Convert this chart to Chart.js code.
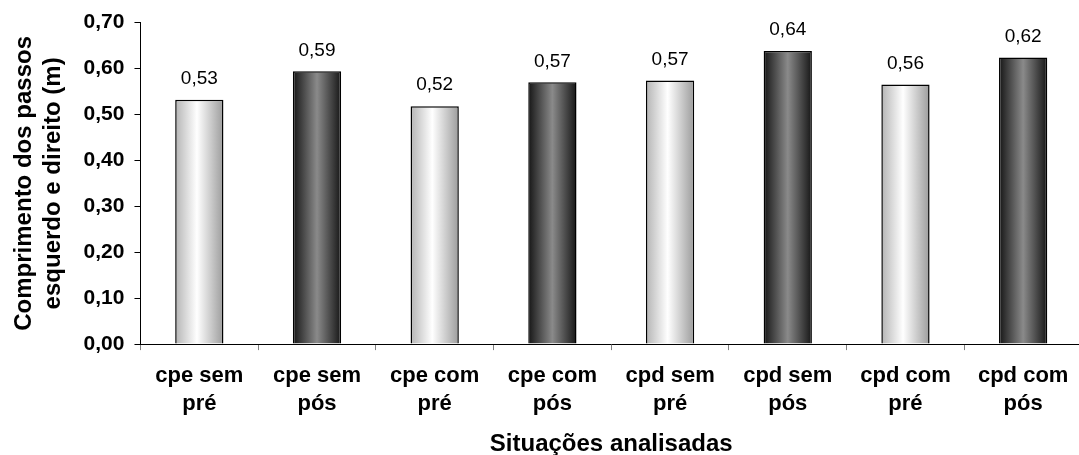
<!DOCTYPE html>
<html>
<head>
<meta charset="utf-8">
<script src="https://cdn.jsdelivr.net/npm/chart.js@4/dist/chart.umd.min.js"></script>
<style>
  html, body { margin: 0; padding: 0; background: #fff; overflow: hidden; }
  #wrap { width: 1083px; height: 456px; }
</style>
</head>
<body>
<div id="wrap"><canvas id="chart"></canvas></div>
<script>
// Step length per situation
const categories = [
  ['cpe sem', 'pré'], ['cpe sem', 'pós'], ['cpe com', 'pré'], ['cpe com', 'pós'],
  ['cpd sem', 'pré'], ['cpd sem', 'pós'], ['cpd com', 'pré'], ['cpd com', 'pós']
];
const stepLength = [0.532, 0.594, 0.518, 0.570, 0.574, 0.638, 0.565, 0.624];
const valueLabels = ['0,53', '0,59', '0,52', '0,57', '0,57', '0,64', '0,56', '0,62'];
const yTicks = [0, 0.1, 0.2, 0.3, 0.4, 0.5, 0.6, 0.7];

const FONT = '"Liberation Sans", Arial, sans-serif';
const BAR_PCT = 0.41;

// horizontal gradient per bar: light for "pré", dark for "pós"
function barFill(context) {
  const chart = context.chart;
  const i = context.dataIndex;
  const dark = i % 2 === 1;
  if (!chart.chartArea) return dark ? '#777' : '#eee';
  const xs = chart.scales.x;
  const cx = xs.getPixelForValue(i);
  const w = (xs.width / categories.length) * BAR_PCT;
  const g = chart.ctx.createLinearGradient(cx - w / 2, 0, cx + w / 2, 0);
  if (dark) {
    g.addColorStop(0, '#161616');
    g.addColorStop(0.5, '#8a8a8a');
    g.addColorStop(1, '#161616');
  } else {
    g.addColorStop(0, '#b4b4b4');
    g.addColorStop(0.45, '#ffffff');
    g.addColorStop(1, '#9c9c9c');
  }
  return g;
}

// value labels above bars
const valueLabelPlugin = {
  id: 'valueLabels',
  afterDatasetsDraw(chart) {
    const ctx = chart.ctx;
    const meta = chart.getDatasetMeta(0);
    ctx.save();
    ctx.font = '19px ' + FONT;
    ctx.fillStyle = '#000';
    ctx.textAlign = 'center';
    ctx.textBaseline = 'middle';
    meta.data.forEach(function(bar, i) {
      ctx.fillText(valueLabels[i], bar.x, bar.y - 21);
    });
    ctx.restore();
  }
};

new Chart(document.getElementById('chart'), {
  type: 'bar',
  data: {
    labels: categories,
    datasets: [{
      data: stepLength,
      backgroundColor: barFill,
      borderColor: '#000',
      borderWidth: 1.5,
      barPercentage: BAR_PCT,
      categoryPercentage: 1
    }]
  },
  options: {
    responsive: true,
    maintainAspectRatio: false,
    animation: false,
    layout: {
      padding: { top: 21, right: 1, bottom: 0, left: 0 }
    },
    plugins: {
      legend: { display: false },
      tooltip: { enabled: false }
    },
    scales: {
      x: {
        grid: {
          display: true,
          drawOnChartArea: false,
          drawTicks: true,
          tickLength: 6,
          color: '#808080'
        },
        border: { color: '#000', width: 1 },
        ticks: {
          color: '#000',
          padding: 12,
          maxRotation: 0,
          autoSkip: false,
          font: { family: FONT, size: 22, weight: 'bold', lineHeight: 1.27 }
        },
        title: {
          display: true,
          text: 'Situações analisadas',
          color: '#000',
          font: { family: FONT, size: 24, weight: 'bold', lineHeight: 1 },
          padding: { top: 2, bottom: 0 }
        }
      },
      y: {
        min: 0,
        max: 0.7,
        afterBuildTicks: function(axis) {
          axis.ticks = yTicks.map(function(v) { return { value: v }; });
        },
        grid: {
          display: true,
          drawOnChartArea: false,
          drawTicks: true,
          tickLength: 6,
          color: '#000'
        },
        border: { color: '#000', width: 1 },
        ticks: {
          color: '#000',
          padding: 10,
          font: { family: FONT, size: 21, weight: 'bold' },
          callback: function(value) {
            return Number(value).toFixed(2).replace('.', ',');
          }
        },
        title: {
          display: true,
          text: ['Comprimento dos passos', 'esquerdo e direito (m)'],
          color: '#000',
          font: { family: FONT, size: 24, weight: 'bold', lineHeight: 1.2 },
          padding: { top: 10, bottom: 6 }
        }
      }
    }
  },
  plugins: [valueLabelPlugin]
});
</script>
</body>
</html>
